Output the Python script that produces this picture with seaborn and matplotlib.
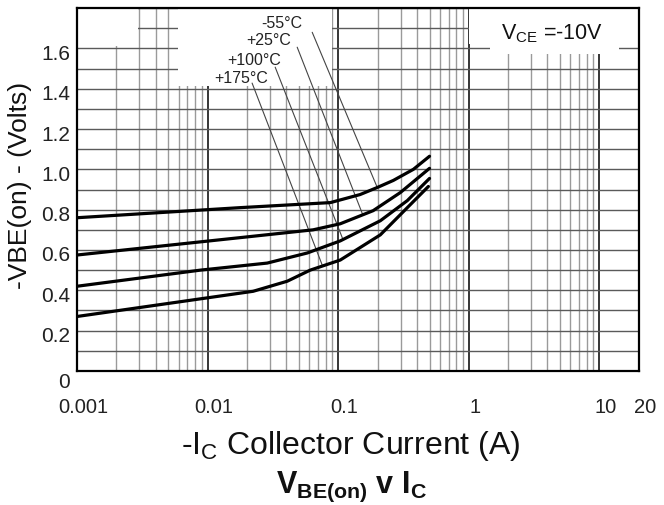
import matplotlib
matplotlib.use("Agg")
import matplotlib.pyplot as plt
from matplotlib.patches import Rectangle
from matplotlib.transforms import ScaledTranslation
from matplotlib.ticker import MultipleLocator, LogLocator, FixedLocator, FixedFormatter, NullFormatter
import seaborn as sns
import pandas as pd

# ---- data ----
temps = ["-55°C", "+25°C", "+100°C", "+175°C"]
ic_m55 = [0.001, 0.0177, 0.087, 0.147, 0.199, 0.264, 0.376, 0.5]
vbe_m55 = [0.76, 0.81, 0.835, 0.875, 0.91, 0.945, 1.0, 1.065]
ic_25 = [0.001, 0.0201, 0.0643, 0.1036, 0.185, 0.299, 0.5]
vbe_25 = [0.575, 0.665, 0.70, 0.73, 0.795, 0.885, 1.005]
ic_100 = [0.001, 0.0088, 0.0286, 0.0579, 0.1036, 0.21, 0.338, 0.5]
vbe_100 = [0.42, 0.50, 0.535, 0.585, 0.645, 0.745, 0.845, 0.955]
ic_175 = [0.001, 0.0223, 0.0407, 0.061, 0.1036, 0.21, 0.338, 0.49]
vbe_175 = [0.27, 0.395, 0.445, 0.50, 0.55, 0.675, 0.81, 0.915]

# label anchor (text) positions and leader line ends
label_x = [0.0372, 0.0291, 0.0227, 0.0181]
label_y = [1.73, 1.646, 1.547, 1.458]
leader_x0 = [0.0632, 0.0485, 0.0329, 0.0219]
leader_y0 = [1.68, 1.606, 1.507, 1.428]
leader_x1 = [0.199, 0.153, 0.109, 0.0754]
leader_y1 = [0.91, 0.78, 0.65, 0.525]

xtick_vals = [0.001, 0.01, 0.1, 1, 10, 20]
xtick_labels = ["0.001", "0.01", "0.1", "1", "10", "20"]
ytick_vals = [0, 0.2, 0.4, 0.6, 0.8, 1.0, 1.2, 1.4, 1.6]
ytick_labels = ["0", "0.2", "0.4", "0.6", "0.8", "1.0", "1.2", "1.4", "1.6"]

series = [(ic_m55, vbe_m55), (ic_25, vbe_25), (ic_100, vbe_100), (ic_175, vbe_175)]
rows = []
for t, (xs, ys) in zip(temps, series):
    for x, y in zip(xs, ys):
        rows.append({"T": t, "Ic": x, "Vbe": y})
df = pd.DataFrame(rows)

sns.set_theme(style="white")
plt.rcParams["font.family"] = ["Liberation Sans", "DejaVu Sans"]
plt.rcParams["mathtext.fontset"] = "custom"
plt.rcParams["mathtext.rm"] = "Liberation Sans"

fig = plt.figure(figsize=(6.64, 5.06), dpi=100)
ax = fig.add_axes([0.116, 0.265, 0.846, 0.717])
ax.set_xscale("log")
ax.set_xlim(0.001, 20)
ax.set_ylim(0, 1.8)

sns.lineplot(data=df, x="Ic", y="Vbe", hue="T", palette=["black"] * 4,
             estimator=None, sort=False, legend=False, lw=2.3, ax=ax, zorder=4)

# grid
ax.set_axisbelow(True)
ax.xaxis.set_major_locator(FixedLocator(xtick_vals))
ax.xaxis.set_major_formatter(FixedFormatter(xtick_labels))
ax.xaxis.set_minor_locator(LogLocator(base=10, subs=[2, 3, 4, 5, 6, 7, 8, 9], numticks=20))
ax.xaxis.set_minor_formatter(NullFormatter())
ax.yaxis.set_major_locator(FixedLocator(ytick_vals))
ax.yaxis.set_major_formatter(FixedFormatter(ytick_labels))
ax.yaxis.set_minor_locator(MultipleLocator(0.1))
ax.grid(which="major", axis="x", color="black", lw=1.1)
ax.grid(which="minor", axis="x", color="#9a9a9a", lw=1.0)
ax.grid(which="both", axis="y", color="#5a5a5a", lw=1.0)
ax.tick_params(which="both", length=0)
ax.tick_params(axis="x", pad=19, labelsize=14.5, colors="#222222")
ax.tick_params(axis="y", pad=5, labelsize=15, colors="#222222")

# offsets of tick labels as printed on the original sheet
for lab in ax.get_xticklabels():
    lab.set_transform(lab.get_transform() + ScaledTranslation(6 / 100, 0, fig.dpi_scale_trans))
for lab in ax.get_yticklabels():
    dy = -9 if lab.get_text() == "0" else -3
    lab.set_transform(lab.get_transform() + ScaledTranslation(0, dy / 100, fig.dpi_scale_trans))

for s in ax.spines.values():
    s.set_color("black")
    s.set_linewidth(1.6)
    s.set_visible(True)

# blank (white) regions of the chart
ax.add_patch(Rectangle((0.00594, 1.415), 0.09 - 0.00594, 0.4, facecolor="white", edgecolor="none", zorder=1))
ax.add_patch(Rectangle((0.001, 1.61), 0.00293 - 0.001, 0.2, facecolor="white", edgecolor="none", zorder=1))
ax.add_patch(Rectangle((1.0, 1.62), 19.0, 0.2, facecolor="white", edgecolor="none", zorder=1))
ax.add_patch(Rectangle((1.46, 1.57), 14.2 - 1.46, 0.25, facecolor="white", edgecolor="none", zorder=1))

# temperature labels with leader lines
for t, lx, ly, x0, y0, x1, y1 in zip(temps, label_x, label_y, leader_x0, leader_y0, leader_x1, leader_y1):
    ax.text(lx, ly, t, fontsize=11.5, ha="center", va="center", color="#222222", zorder=5)
    ax.plot([x0, x1], [y0, y1], color="#444444", lw=0.8, zorder=3)

ax.text(4.36, 1.68, r"V$_\mathregular{CE}$ =-10V", fontsize=15.5, ha="center", va="center",
        color="#111111", zorder=5)

ax.set_xlabel("")
ax.set_ylabel("")
fig.text(20 / 664, 1 - 185 / 506, "-VBE(on) - (Volts)", rotation=90, fontsize=19,
         ha="center", va="center", color="#111111")
fig.text(351 / 664, 1 - 446 / 506, r"-I$_\mathregular{C}$ Collector Current (A)", fontsize=23,
         ha="center", va="center", color="#111111")
fig.text(351 / 664, 1 - 487 / 506, r"V$_\mathregular{BE(on)}$ v I$_\mathregular{C}$", fontsize=22,
         fontweight="bold", ha="center", va="center", color="#111111")

fig.savefig("out.png", dpi=100)
